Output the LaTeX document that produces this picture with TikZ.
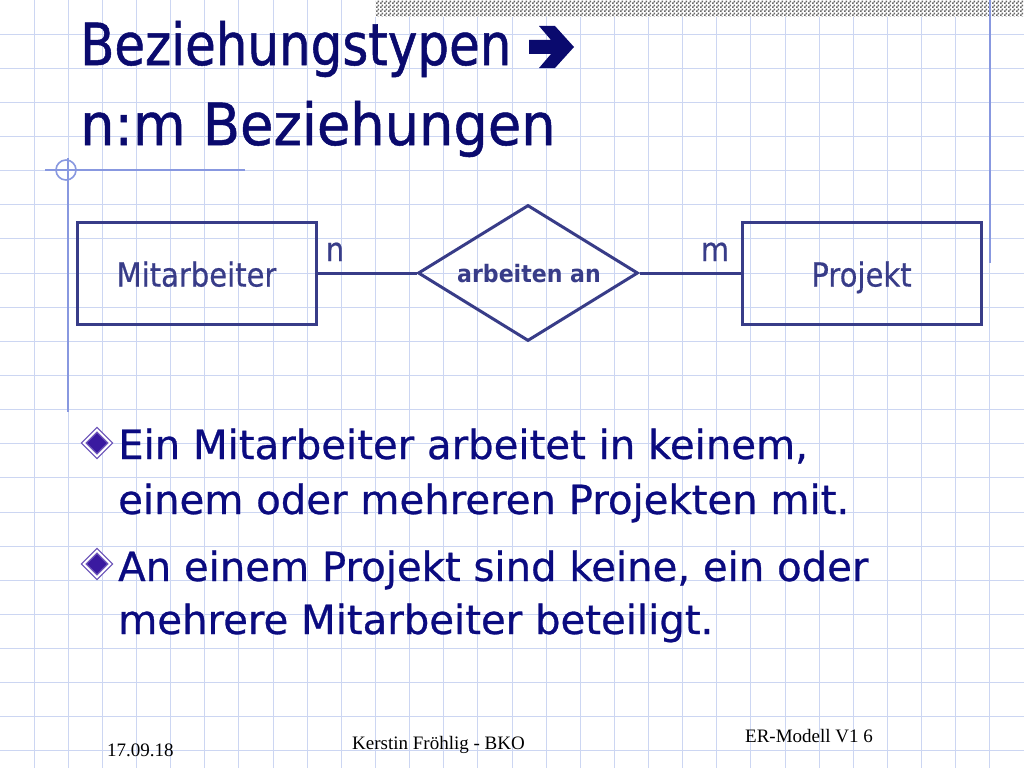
\documentclass[tikz,border=0pt]{standalone}
\usepackage{fontspec}
\setmainfont{DejaVu Sans}
\newfontfamily\tahoma{DejaVu Sans}[FakeStretch=0.88, FakeBold=0.5]
\newfontfamily\titlef{DejaVu Sans}[FakeStretch=0.86, FakeBold=0.9]
\newfontfamily\titlefb{DejaVu Sans}[FakeStretch=0.935, FakeBold=0.9]
\newfontfamily\bulf{DejaVu Sans}[FakeBold=0.7]
\newfontfamily\tahomab{DejaVu Sans Bold}[FakeStretch=0.92]
\newfontfamily\timesf{Liberation Serif}
\usetikzlibrary{shapes.geometric,patterns}
\pgfdeclarepatternformonly{fineck}{\pgfpointorigin}{\pgfqpoint{4pt}{4pt}}{\pgfqpoint{4pt}{4pt}}{%
  \pgfpathrectangle{\pgfpointorigin}{\pgfqpoint{2pt}{2pt}}%
  \pgfpathrectangle{\pgfqpoint{2pt}{2pt}}{\pgfqpoint{2pt}{2pt}}%
  \pgfusepath{fill}}
\definecolor{titlec}{HTML}{0A0A6E}
\definecolor{diagc}{HTML}{383C88}
\definecolor{bulc}{HTML}{0B0B80}
\definecolor{gridc}{HTML}{CCD6F2}
\definecolor{marginc}{HTML}{8898E0}
\definecolor{bulletfill}{HTML}{3A1AA0}
\tikzset{
  gridline/.style={draw=gridc, line width=1pt},
  marginline/.style={draw=marginc, line width=1.6pt},
  ent/.style={draw=diagc, line width=3pt, rectangle, minimum width=239pt, minimum height=102pt, inner sep=0pt,
    text height=27pt, text depth=0pt, text=diagc, font=\tahoma\fontsize{33}{40}\selectfont},
  rel/.style={draw=diagc, line width=3pt, diamond, minimum width=220pt, minimum height=136pt, inner sep=0pt},
  rellabel/.style={text=diagc, font=\tahomab\fontsize{24}{28}\selectfont, inner sep=0pt, anchor=base},
  card/.style={text=diagc, font=\tahoma\fontsize{33}{40}\selectfont, inner sep=0pt, anchor=base},
  conn/.style={draw=diagc, line width=3pt},
  titletext/.style={text=titlec, font=\titlef\fontsize{58}{70}\selectfont, inner sep=0pt, anchor=base west},
  titletextb/.style={titletext, font=\titlefb\fontsize{58}{70}\selectfont},
  titlearrow/.style={fill=titlec},
  bultext/.style={text=bulc, font=\bulf\fontsize{40.2}{48}\selectfont, inner sep=0pt, anchor=base west},
  bulletmark/.style={diamond, minimum width=27pt, minimum height=27pt, inner sep=0pt, fill=bulletfill,
    draw=bulletfill!75, line width=1.3pt, double=white, double distance=2pt},
  foot/.style={text=black, font=\timesf\fontsize{19}{22}\selectfont, inner sep=0pt, anchor=base west}
}
\begin{document}
\begin{tikzpicture}[x=1pt,y=-1pt]
\useasboundingbox (0,0) rectangle (1024,768);
\fill[white] (0,0) rectangle (1024,768);
% grid
\foreach \i in {1,...,29} \draw[gridline] ({\i*34.133},0) -- ({\i*34.133},768);
\foreach \j in {1,...,22} \draw[gridline] (0,{\j*34.133}) -- (1024,{\j*34.133});
% top band
\fill[white] (375,0) rectangle (1024,17);
\fill[pattern=fineck, pattern color=black!60] (375,0) rectangle (1024,17);
% margin decorations
\draw[marginline] (990,0) -- (990,263);
\draw[marginline] (68,158) -- (68,412);
\draw[marginline] (45,170) -- (245,170);
\draw[marginline] (66,170) circle[radius=10];
% title
\node[titletext] (t1) at (80,65) {Beziehungstypen};
\fill[titlearrow] (529,40) -- (551,40) -- (539,26) -- (555,26) -- (574,47) -- (555,68) -- (539,68) -- (551,54) -- (529,54) -- cycle;
\node[titletextb] (t2) at (80,145) {n:m Beziehungen};
% ER diagram
\node[ent] (mit) at (196.5,273) {Mitarbeiter};
\node[ent] (proj) at (861.5,273) {Projekt};
\node[rel] (rel) at (528,273) {};
\node[rellabel] (rell) at (529,282) {arbeiten an};
\draw[conn] (mit.east) -- (rel.west);
\draw[conn] (rel.east) -- (proj.west);
\node[card] (cn) at (335,261) {n};
\node[card] (cm) at (715,261) {m};
% bullets
\node[bulletmark] (b1) at (97,443) {};
\node[bultext] (l1) at (118,459) {Ein Mitarbeiter arbeitet in keinem,};
\node[bultext] (l2) at (118,514) {einem oder mehreren Projekten mit.};
\node[bulletmark] (b2) at (97,564) {};
\node[bultext] (l3) at (118,581) {An einem Projekt sind keine, ein oder};
\node[bultext] (l4) at (118,634) {mehrere Mitarbeiter beteiligt.};
% footer
\node[foot] (f1) at (107,756) {17.09.18};
\node[foot] (f2) at (352,749) {Kerstin Fröhlig - BKO};
\node[foot] (f3) at (745,742) {ER-Modell V1 6};
\end{tikzpicture}
\end{document}
